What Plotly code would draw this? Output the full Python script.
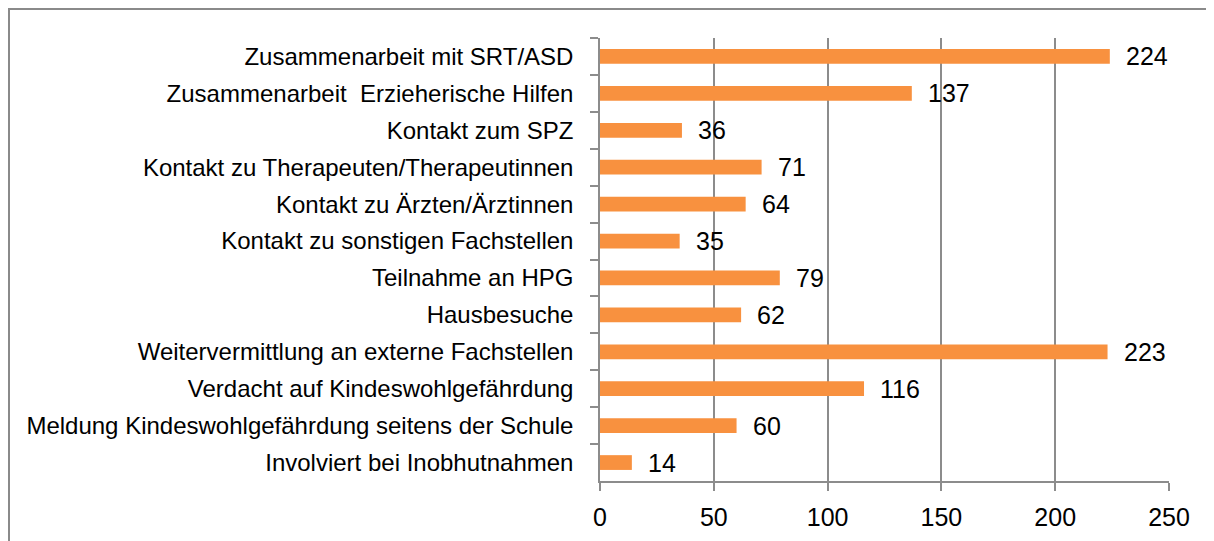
import plotly.graph_objects as go

categories = [
    "Zusammenarbeit mit SRT/ASD",
    "Zusammenarbeit\u00a0 Erzieherische Hilfen",
    "Kontakt zum SPZ",
    "Kontakt zu Therapeuten/Therapeutinnen",
    "Kontakt zu Ärzten/Ärztinnen",
    "Kontakt zu sonstigen Fachstellen",
    "Teilnahme an HPG",
    "Hausbesuche",
    "Weitervermittlung an externe Fachstellen",
    "Verdacht auf Kindeswohlgefährdung",
    "Meldung Kindeswohlgefährdung seitens der Schule",
    "Involviert bei Inobhutnahmen",
]
values = [224, 137, 36, 71, 64, 35, 79, 62, 223, 116, 60, 14]
x_ticks = [0, 50, 100, 150, 200, 250]

FONT = "Liberation Sans, Arial, sans-serif"
GRID = "#8c8c8c"

fig = go.Figure()
fig.add_trace(go.Bar(
    x=values, y=categories, orientation="h",
    marker=dict(color="#F8913F", line=dict(width=0)),
    width=0.4, hoverinfo="x+y",
))

for c, v in zip(categories, values):
    fig.add_annotation(x=v, y=c, xref="x", yref="y", text=str(v),
                       showarrow=False, xanchor="left", yanchor="middle",
                       xshift=14, font=dict(family=FONT, size=25, color="#000"))

# page body has an 8px offset; compensate in margins
OFF = 8
W, H = 1214, 541
ml, mr, mt, mb = 600 - OFF, 45 + OFF, 38 - OFF, 60 + OFF
pw, ph = W - ml - mr, H - mt - mb
fig.add_shape(type="rect", xref="paper", yref="paper",
              x0=(9 - OFF - ml) / pw, x1=1 + 40 / pw,
              y0=-(mb + 40) / ph, y1=1 + (mt - (9 - OFF)) / ph,
              line=dict(color="#8a8a8a", width=2), layer="below")

fig.update_layout(
    width=W, height=H,
    margin=dict(l=ml, r=mr, t=mt, b=mb, autoexpand=False),
    plot_bgcolor="white", paper_bgcolor="white",
    showlegend=False,
    font=dict(family=FONT, size=24, color="#000"),
    xaxis=dict(range=[0, 250], tickvals=x_ticks, ticktext=[str(t) for t in x_ticks],
               showgrid=True, gridcolor=GRID, gridwidth=1.5,
               showline=True, linecolor=GRID, linewidth=1.5,
               ticks="outside", ticklen=8, tickcolor=GRID, tickwidth=1.5,
               zeroline=False, fixedrange=True, ticklabelstandoff=5,
               tickfont=dict(family=FONT, size=25, color="#000")),
    yaxis=dict(categoryorder="array", categoryarray=categories, autorange="reversed",
               showline=True, linecolor=GRID, linewidth=1.5,
               ticks="outside", tickson="boundaries", ticklen=8, tickcolor=GRID, tickwidth=1.5,
               showgrid=False, automargin=False, ticklabelstandoff=20,
               tickfont=dict(family=FONT, size=24, color="#000")),
)

fig.write_html("out.html")
